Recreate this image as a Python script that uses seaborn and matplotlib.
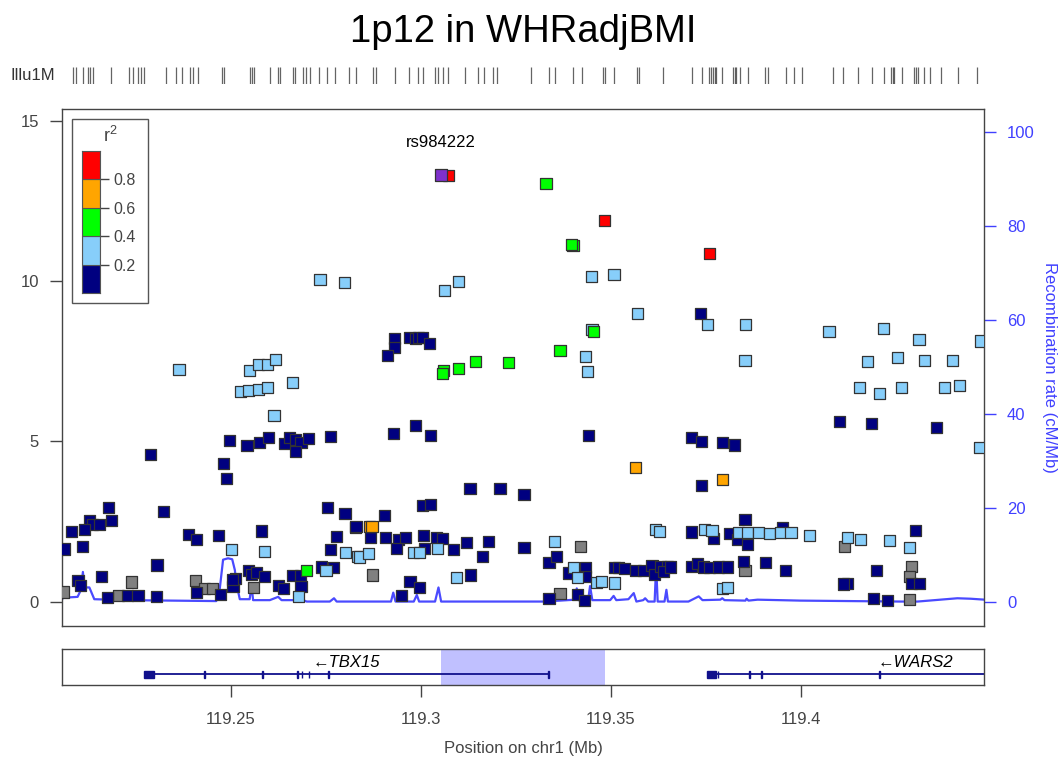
import numpy as np
import pandas as pd
import matplotlib
matplotlib.use("Agg")
import matplotlib.pyplot as plt
from matplotlib.patches import Rectangle
import seaborn as sns

sns.set_theme(style="white")
plt.rcParams["font.family"] = ["Liberation Sans", "DejaVu Sans"]

# ---------------- data ----------------
title = "1p12 in WHRadjBMI"
index_snp = "rs984222"
index_pos = 119.3054
index_logp = 13.30

navy_pos = [119.2289, 119.2498, 119.2543, 119.2576, 119.2599, 119.2643, 119.2656, 119.2671, 119.2685, 119.2706,
            119.2763, 119.2671, 119.2482, 119.2489, 119.2179, 119.2187, 119.2128, 119.2137, 119.2155, 119.2082,
            119.2115, 119.2324, 119.2062, 119.2110, 119.2754, 119.2801, 119.2829, 119.2779, 119.2763, 119.2390,
            119.2411, 119.2468, 119.2581, 119.2306, 119.2159, 119.2098, 119.2105, 119.2175, 119.2228, 119.2256,
            119.2305, 119.2410, 119.2474, 119.2506, 119.2513, 119.2505, 119.2548, 119.2555, 119.2569, 119.2589,
            119.2625, 119.2640, 119.2663, 119.2684, 119.2685, 119.2739, 119.2770]
navy_logp = [4.59, 5.02, 4.88, 4.97, 5.12, 4.93, 5.12, 5.05, 4.97, 5.09,
             5.16, 4.69, 4.30, 3.84, 2.94, 2.53, 2.52, 2.40, 2.40, 2.20,
             2.25, 2.81, 1.65, 1.73, 2.93, 2.75, 2.33, 2.05, 1.62, 2.09,
             1.94, 2.08, 2.21, 1.15, 0.78, 0.66, 0.50, 0.15, 0.20, 0.19,
             0.16, 0.30, 0.23, 0.48, 0.74, 0.71, 0.99, 0.86, 0.93, 0.79,
             0.51, 0.41, 0.82, 0.82, 0.47, 1.09, 1.07]

navy_pos_mid = [119.2932, 119.2932, 119.2913, 119.2972, 119.2986, 119.2994, 119.3005, 119.3023, 119.2928, 119.2987,
                119.3025, 119.3443, 119.3130, 119.3209, 119.3272, 119.3004, 119.3025, 119.2906, 119.2830, 119.2869,
                119.2907, 119.2941, 119.2960, 119.3008, 119.3042, 119.3057, 119.3120, 119.3178, 119.3272, 119.2936,
                119.3011, 119.3087, 119.3164, 119.3132, 119.2972, 119.2996, 119.2949, 119.3338, 119.3358, 119.3433,
                119.3389, 119.3433, 119.3510, 119.3521, 119.3536, 119.3565, 119.3587, 119.3609, 119.3615, 119.3631,
                119.3649, 119.3640, 119.3338, 119.3414, 119.3432]
navy_logp_mid = [8.21, 7.93, 7.69, 8.25, 8.21, 8.25, 8.25, 8.05, 5.26, 5.49,
                 5.19, 5.18, 3.53, 3.53, 3.35, 3.00, 3.04, 2.68, 2.34, 2.02,
                 2.02, 1.94, 2.02, 2.06, 2.02, 1.99, 1.85, 1.88, 1.70, 1.67,
                 1.67, 1.64, 1.42, 0.84, 0.65, 0.44, 0.21, 1.23, 1.41, 1.07,
                 0.90, 0.79, 1.06, 1.06, 1.03, 0.99, 0.99, 1.14, 0.85, 1.11,
                 1.11, 0.95, 0.12, 0.23, 0.05]

navy_pos_right = [119.3736, 119.4103, 119.4186, 119.4358, 119.3713, 119.3739, 119.3794, 119.3827, 119.3739, 119.3854,
                  119.3713, 119.3771, 119.3814, 119.3833, 119.3953, 119.3861, 119.4303, 119.3657, 119.3713, 119.3728,
                  119.3745, 119.3761, 119.3785, 119.3808, 119.3849, 119.3908, 119.3961, 119.4200, 119.4123, 119.4114,
                  119.4292, 119.4314, 119.4193, 119.4228]
navy_logp_right = [9.00, 5.61, 5.56, 5.44, 5.12, 5.01, 4.98, 4.89, 3.63, 2.56,
                   2.18, 1.97, 2.12, 1.94, 2.32, 1.78, 2.22, 1.09, 1.11, 1.19,
                   1.09, 1.07, 1.09, 1.09, 1.25, 1.22, 0.97, 0.97, 0.58, 0.56,
                   0.57, 0.57, 0.11, 0.04]

lblue_pos = [119.2364, 119.2550, 119.2574, 119.2596, 119.2619, 119.2526, 119.2546, 119.2574, 119.2597, 119.2662,
             119.2614, 119.2803, 119.2834, 119.2503, 119.2589, 119.2678, 119.2751, 119.2735, 119.2799, 119.3062,
             119.3099, 119.3451, 119.3572, 119.3434, 119.3440, 119.2840, 119.2863, 119.2981, 119.2998, 119.3044,
             119.3353, 119.3095, 119.3402, 119.3412, 119.3462, 119.3477, 119.3510, 119.3618, 119.3629, 119.3449,
             119.3509, 119.3756, 119.3855, 119.3854, 119.4075, 119.4219, 119.4312, 119.4473, 119.4177, 119.4256,
             119.4327, 119.4401, 119.4155, 119.4209, 119.4265, 119.4380, 119.4418, 119.4470, 119.3748, 119.3767,
             119.3837, 119.3861, 119.3890, 119.3919, 119.3947, 119.3975, 119.4023, 119.4123, 119.4158, 119.4234,
             119.4287, 119.3795, 119.3807]
lblue_logp = [7.23, 7.22, 7.41, 7.41, 7.55, 6.56, 6.59, 6.63, 6.68, 6.83,
              5.80, 1.53, 1.41, 1.64, 1.57, 0.16, 0.99, 10.04, 9.95, 9.70,
              9.98, 8.48, 9.00, 7.64, 7.17, 1.40, 1.52, 1.55, 1.54, 1.66,
              1.87, 0.75, 1.07, 0.76, 0.61, 0.63, 0.59, 2.25, 2.20, 10.14,
              10.19, 8.64, 8.64, 7.52, 8.43, 8.53, 8.18, 8.13, 7.48, 7.63,
              7.52, 7.52, 6.67, 6.49, 6.67, 6.67, 6.73, 4.81, 2.27, 2.22,
              2.17, 2.15, 2.15, 2.12, 2.15, 2.17, 2.08, 2.01, 1.94, 1.92,
              1.70, 0.41, 0.44]

green_pos = [119.2700, 119.3061, 119.3058, 119.3099, 119.3144, 119.3231, 119.3367, 119.3455, 119.3330, 119.3401, 119.3398]
green_logp = [0.99, 7.22, 7.11, 7.26, 7.50, 7.47, 7.83, 8.42, 13.04, 11.11, 11.15]

orange_pos = [119.3566, 119.2866, 119.2872, 119.3794]
orange_logp = [4.18, 2.35, 2.35, 3.81]

red_pos = [119.3073, 119.3483, 119.3761]
red_logp = [13.30, 11.88, 10.86]

gray_pos = [119.2060, 119.2240, 119.2204, 119.2408, 119.2431, 119.2453, 119.2559, 119.3422, 119.2874, 119.3367,
            119.4116, 119.3854, 119.4293, 119.4286, 119.4286]
gray_logp = [0.31, 0.62, 0.20, 0.66, 0.42, 0.42, 0.46, 1.74, 0.84, 0.25,
             1.73, 0.97, 1.11, 0.79, 0.07]

recomb_pos = [119.2054, 119.2058, 119.2097, 119.2106, 119.2111, 119.2115, 119.2128, 119.2141, 119.2225, 119.2462,
              119.2471, 119.2480, 119.2493, 119.2504, 119.2511, 119.2515, 119.2524, 119.2550, 119.2555, 119.2559,
              119.2603, 119.2625, 119.2634, 119.2691, 119.2700, 119.2761, 119.2772, 119.2779, 119.2840, 119.2922,
              119.2928, 119.2934, 119.2982, 119.2990, 119.2996, 119.3038, 119.3047, 119.3054, 119.3323, 119.3367,
              119.3407, 119.3411, 119.3415, 119.3441, 119.3446, 119.3452, 119.3499, 119.3508, 119.3515, 119.3547,
              119.3561, 119.3568, 119.3586, 119.3591, 119.3599, 119.3616, 119.3620, 119.3624, 119.3642, 119.3647,
              119.3651, 119.3705, 119.3732, 119.3742, 119.3789, 119.3794, 119.3800, 119.3855, 119.3858, 119.3863,
              119.3887, 119.4000, 119.4264, 119.4308, 119.4413, 119.4448, 119.4485]
recomb_rate = [0.1, 0.9, 1.1, 2.6, 6.4, 3.1, 3.1, 0.6, 0.4, 0.2,
               2.6, 9.0, 9.3, 9.1, 6.8, 4.0, 0.6, 0.6, 3.6, 0.4,
               0.4, 1.1, 0.4, 0.4, 0.1, 0.1, 0.8, 0.1, 0.1, 0.1,
               2.0, 0.1, 0.1, 1.5, 0.1, 0.1, 3.1, 0.1, 0.1, 0.3,
               0.5, 2.9, 0.4, 0.4, 3.4, 0.4, 0.4, 1.3, 0.4, 0.6,
               1.9, 0.1, 0.4, 0.8, 0.1, 0.1, 7.7, 0.1, 0.1, 2.6,
               0.1, 0.1, 1.2, 0.4, 0.5, 0.8, 0.4, 0.3, 0.7, 0.3,
               0.5, 0.3, 0.1, 0.1, 0.8, 0.7, 0.5]

rug_pos = [119.2084, 119.2093, 119.2110, 119.2124, 119.2131, 119.2137, 119.2185, 119.2233, 119.2242, 119.2257,
           119.2263, 119.2271, 119.2329, 119.2357, 119.2371, 119.2394, 119.2402, 119.2415, 119.2476, 119.2483,
           119.2550, 119.2555, 119.2562, 119.2603, 119.2624, 119.2631, 119.2663, 119.2670, 119.2690, 119.2697,
           119.2710, 119.2733, 119.2754, 119.2775, 119.2812, 119.2831, 119.2874, 119.2883, 119.2932, 119.2970,
           119.2993, 119.3005, 119.3037, 119.3047, 119.3058, 119.3071, 119.3117, 119.3151, 119.3168, 119.3191,
           119.3200, 119.3290, 119.3338, 119.3354, 119.3401, 119.3425, 119.3479, 119.3486, 119.3509, 119.3570,
           119.3576, 119.3639, 119.3715, 119.3741, 119.3760, 119.3765, 119.3770, 119.3774, 119.3778, 119.3793,
           119.3822, 119.3827, 119.3831, 119.3840, 119.3861, 119.3906, 119.3915, 119.3961, 119.3983, 119.4003,
           119.4085, 119.4112, 119.4152, 119.4189, 119.4220, 119.4238, 119.4243, 119.4247, 119.4268, 119.4299,
           119.4303, 119.4308, 119.4325, 119.4340, 119.4370, 119.4415, 119.4464]

gene_names = ["TBX15", "WARS2"]
gene_start = [119.2271, 119.3754]
gene_end = [119.3337, 119.4849]
tbx15_exon_start = [119.2271, 119.2430, 119.2583, 119.2675, 119.2687, 119.2705, 119.2757, 119.3336]
tbx15_exon_end = [119.2298, 119.2432, 119.2585, 119.2677, 119.2689, 119.2707, 119.2759, 119.3338]
wars2_exon_start = [119.3754, 119.3782, 119.3865, 119.3896, 119.4206]
wars2_exon_end = [119.3778, 119.3784, 119.3867, 119.3898, 119.4208]
highlight = (119.3054, 119.3486)

x_ticks = [119.25, 119.30, 119.35, 119.40]
x_ticklabels = ["119.25", "119.3", "119.35", "119.4"]
ld_ticks = [0.2, 0.4, 0.6, 0.8]

# ---------------- styling ----------------
XLIM = (119.2056, 119.4483)
pal = {"NA": "#808080", "0-0.2": "#000080", "0.2-0.4": "#87CEFA",
       "0.4-0.6": "#00FF00", "0.6-0.8": "#FFA500", "0.8-1": "#FF0000"}
order = ["NA", "0-0.2", "0.2-0.4", "0.4-0.6", "0.6-0.8", "0.8-1"]
BLUE = "#4040FF"
GREY_TXT = "#444444"

frames = [
    pd.DataFrame({"pos": gray_pos, "logp": gray_logp, "ld": "NA"}),
    pd.DataFrame({"pos": navy_pos + navy_pos_mid + navy_pos_right,
                  "logp": navy_logp + navy_logp_mid + navy_logp_right, "ld": "0-0.2"}),
    pd.DataFrame({"pos": lblue_pos, "logp": lblue_logp, "ld": "0.2-0.4"}),
    pd.DataFrame({"pos": green_pos, "logp": green_logp, "ld": "0.4-0.6"}),
    pd.DataFrame({"pos": orange_pos, "logp": orange_logp, "ld": "0.6-0.8"}),
    pd.DataFrame({"pos": red_pos, "logp": red_logp, "ld": "0.8-1"}),
]
df = pd.concat(frames, ignore_index=True)

fig = plt.figure(figsize=(10.62, 7.58), dpi=100)
L, W = 62 / 1062, 922 / 1062
ax = fig.add_axes([L, 1 - 626 / 758, W, 516.7 / 758])
ax2 = ax.twinx()

# recombination rate
sns.lineplot(x=recomb_pos, y=recomb_rate, ax=ax2, color=BLUE, lw=1.6,
             sort=False, estimator=None, alpha=0.95)
ax2.set_ylim(-5.1, 104.8)
ax2.set_yticks([0, 20, 40, 60, 80, 100])
ax2.tick_params(axis="y", right=True, length=8.5, width=1, colors=BLUE,
                labelsize=12, pad=8)
for s in ax2.spines.values():
    s.set_visible(False)
ax2.set_ylabel("Recombination rate (cM/Mb)", color=BLUE, fontsize=12,
               rotation=270, va="center", ha="center")
ax2.yaxis.set_label_coords((1050 - 62) / 922, 0.5)

ax.set_zorder(ax2.get_zorder() + 1)
ax.patch.set_visible(False)

sns.scatterplot(data=df, x="pos", y="logp", hue="ld", palette=pal, hue_order=order,
                marker="s", s=64, edgecolor="#333333", linewidth=0.9,
                legend=False, ax=ax, zorder=3)
ax.scatter([index_pos], [index_logp], marker="s", s=64, color="#7F30CC",
           edgecolor="#333333", linewidth=0.9, zorder=4)
ax.text(index_pos, index_logp + 1.0, index_snp, ha="center", va="center",
        fontsize=12, color="black", zorder=5)

ax.set_xlim(*XLIM)
ax.set_ylim(-0.75, 15.35)
ax.set_yticks([0, 5, 10, 15])
ax.set_xticks([])
ax.set_xlabel("")
ax.set_ylabel("")
ax.tick_params(axis="y", left=True, length=8.5, width=1, color=GREY_TXT,
               labelcolor=GREY_TXT, labelsize=12, pad=8)
for s in ax.spines.values():
    s.set_visible(True)
    s.set_color("#444444")
    s.set_linewidth(1.0)

# ---------------- LD legend ----------------
fig.add_artist(Rectangle((71.7 / 1062, 1 - 302.7 / 758), 76.6 / 1062, 183.7 / 758,
                         transform=fig.transFigure, facecolor="white",
                         edgecolor="#555555", lw=1.0, zorder=5))
cax = fig.add_axes([81.7 / 1062, 1 - 293.3 / 758, 18.6 / 1062, 142.6 / 758])
cax.set_zorder(6)
for i, key in enumerate(order[1:]):
    cax.bar(0, 0.2, bottom=0.2 * i, width=1, color=pal[key],
            edgecolor="#555555", linewidth=0.8)
cax.set_xlim(-0.5, 0.5)
cax.set_ylim(0, 1)
cax.set_xticks([])
cax.yaxis.tick_right()
cax.set_yticks(ld_ticks)
cax.set_yticklabels([f"{t:.1f}" for t in ld_ticks])
cax.tick_params(axis="y", right=True, left=False, length=6.5, width=1,
                color=GREY_TXT, labelcolor=GREY_TXT, labelsize=11.5, pad=3)
for s in cax.spines.values():
    s.set_color("#555555")
    s.set_linewidth(0.8)
fig.text(110 / 1062, 1 - 136 / 758, r"$\mathregular{r^2}$", ha="center", va="center",
         fontsize=13, color=GREY_TXT, zorder=7)

# ---------------- rug of SNP panel ----------------
rax = fig.add_axes([L, 1 - 84 / 758, W, 17 / 758])
rax.vlines(rug_pos, 0, 1, color="#222222", alpha=0.7, lw=0.9)
rax.set_xlim(*XLIM)
rax.set_ylim(0, 1)
rax.axis("off")
fig.text(10 / 1062, 1 - 75.5 / 758, "Illu1M", ha="left", va="center",
         fontsize=12, color="#333333")

# ---------------- gene panel ----------------
gax = fig.add_axes([L, 1 - 685 / 758, W, 36 / 758])
gax.set_xlim(*XLIM)
gax.set_ylim(0, 1)
gax.axvspan(highlight[0], highlight[1], color="#C0C0FF", lw=0, zorder=0)
GENE_C = "#10108C"
exons = [(tbx15_exon_start, tbx15_exon_end), (wars2_exon_start, wars2_exon_end)]
for name, gs, ge, (es, ee) in zip(gene_names, gene_start, gene_end, exons):
    gax.hlines(0.30, gs, ge, color=GENE_C, lw=1.3, zorder=2)
    for a, b in zip(es, ee):
        gax.add_patch(Rectangle((a, 0.20), b - a, 0.18, facecolor=GENE_C,
                                edgecolor=GENE_C, lw=1.0, zorder=3))
    gax.text((gs + ge) / 2, 0.63, "\u2190" + name, ha="center", va="center",
             fontsize=12, style="italic", color="black", zorder=4)
gax.set_yticks([])
gax.set_xticks(x_ticks)
gax.set_xticklabels(x_ticklabels)
gax.tick_params(axis="x", bottom=True, length=8.5, width=1, color=GREY_TXT,
                labelcolor=GREY_TXT, labelsize=12, pad=11)
for s in gax.spines.values():
    s.set_visible(True)
    s.set_color("#444444")
    s.set_linewidth(1.0)

fig.text(523 / 1062, 1 - 748 / 758, "Position on chr1 (Mb)", ha="center", va="center",
         fontsize=12, color=GREY_TXT)
fig.text(523 / 1062, 1 - 32 / 758, title, ha="center", va="center",
         fontsize=27.5, color="black")

fig.savefig("out.png", dpi=100)
